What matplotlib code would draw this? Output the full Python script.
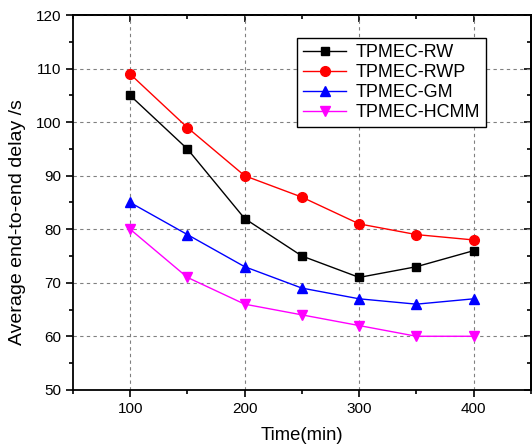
import matplotlib
matplotlib.use("Agg")
import matplotlib.pyplot as plt
from matplotlib.ticker import MultipleLocator

plt.rcParams['font.family'] = ['Liberation Sans', 'DejaVu Sans']

times = [100, 150, 200, 250, 300, 350, 400]
rw = [105, 95, 82, 75, 71, 73, 76]
rwp = [109, 99, 90, 86, 81, 79, 78]
gm = [85, 79, 73, 69, 67, 66, 67]
hcmm = [80, 71, 66, 64, 62, 60, 60]

fig = plt.figure(figsize=(5.32, 4.47), dpi=100)
ax = fig.add_axes([0.137, 0.128, 0.861, 0.838])

ax.plot(times, rw, color="black", marker="s", markersize=6, lw=1, label="TPMEC-RW")
ax.plot(times, rwp, color="red", marker="o", markersize=7, lw=1, label="TPMEC-RWP")
ax.plot(times, gm, color="blue", marker="^", markersize=7.5, lw=1, label="TPMEC-GM")
ax.plot(times, hcmm, color="magenta", marker="v", markersize=7.5, lw=1, label="TPMEC-HCMM")

ax.set_xlim(50, 450)
ax.set_ylim(50, 120)
ax.xaxis.set_major_locator(MultipleLocator(100))
ax.xaxis.set_minor_locator(MultipleLocator(50))
ax.yaxis.set_major_locator(MultipleLocator(10))
ax.yaxis.set_minor_locator(MultipleLocator(5))
ax.tick_params(which="both", labelsize=11, width=1.2, direction="out")
ax.tick_params(which="major", length=5)
ax.tick_params(which="minor", length=3)
for s in ax.spines.values():
    s.set_linewidth(1.3)

# mirrored ticks on top and right, pointing inward
top = ax.secondary_xaxis("top")
top.xaxis.set_major_locator(MultipleLocator(100))
top.xaxis.set_minor_locator(MultipleLocator(50))
top.tick_params(which="both", direction="in", labeltop=False, width=1.2)
top.tick_params(which="major", length=5)
top.tick_params(which="minor", length=3)
right = ax.secondary_yaxis("right")
right.yaxis.set_major_locator(MultipleLocator(10))
right.yaxis.set_minor_locator(MultipleLocator(5))
right.tick_params(which="both", direction="in", labelright=False, width=1.2)
right.tick_params(which="major", length=5)
right.tick_params(which="minor", length=3)
top.spines["top"].set_linewidth(1.3)
right.spines["right"].set_linewidth(1.3)

ax.grid(True, which="major", color="gray", linestyle=(0, (3, 3)), lw=0.8)

ax.set_xlabel("Time(min)", fontsize=13.3, labelpad=8)
ax.set_ylabel("Average end-to-end delay /s", fontsize=14)
ax.yaxis.set_label_coords(-0.103, 0.448)

leg = ax.legend(loc="upper right", bbox_to_anchor=(0.902, 0.939), borderaxespad=0,
                fontsize=13, fancybox=False, edgecolor="black", framealpha=1,
                handlelength=2.4, borderpad=0.35, labelspacing=0.16, handletextpad=0.5)
leg.get_frame().set_linewidth(1)

fig.savefig("out.png", dpi=100)
